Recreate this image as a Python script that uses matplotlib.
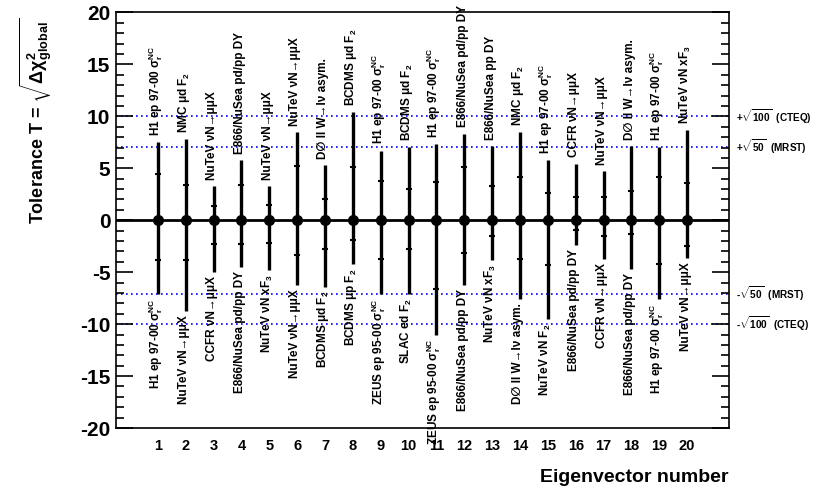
import numpy as np
import matplotlib
matplotlib.use("Agg")
import matplotlib.pyplot as plt
from matplotlib.ticker import MultipleLocator

plt.rcParams['font.family'] = ['Liberation Sans', 'DejaVu Sans']
plt.rcParams['font.weight'] = 'bold'
plt.rcParams['mathtext.fontset'] = 'custom'
plt.rcParams['mathtext.rm'] = 'Liberation Sans:bold'
plt.rcParams['mathtext.it'] = 'Liberation Sans:bold'
plt.rcParams['mathtext.bf'] = 'Liberation Sans:bold'
plt.rcParams['mathtext.sf'] = 'Liberation Sans:bold'
plt.rcParams['mathtext.default'] = 'rm'
plt.rcParams['axes.unicode_minus'] = False

# eigenvector numbers and tolerance values
eigen = np.arange(1, 21)
upper = [7.5, 7.8, 3.3, 5.8, 3.3, 8.5, 5.3, 10.4, 6.7, 7.05,
         7.3, 8.35, 7.15, 8.45, 5.8, 5.45, 4.75, 7.15, 7.05, 8.7]
upper_inner = [4.5, 3.4, 1.4, 3.4, 1.45, 5.2, 2.0, 5.1, 3.8, 3.0,
               3.7, 5.1, 3.3, 4.2, 2.6, 2.25, 2.25, 2.8, 4.2, 3.6]
lower = [-7.1, -8.7, -5.0, -4.5, -4.8, -6.25, -6.4, -4.2, -7.1, -7.1,
         -11.0, -6.2, -3.85, -7.6, -9.55, -2.4, -3.7, -4.65, -7.6, -3.6]
lower_inner = [-3.8, -3.8, -2.25, -2.25, -2.2, -3.3, -2.8, -1.9, -3.7, -2.8,
               -6.6, -3.2, -1.55, -3.7, -4.3, -0.95, -1.55, -1.3, -4.2, -2.5]

H1 = r'H1 ep 97-00 $σ_r^{NC}$'
ZEUS = r'ZEUS ep 95-00 $σ_r^{NC}$'
NUTEV_MM = 'NuTeV νN→μμX'
CCFR_MM = 'CCFR νN→μμX'
E866 = 'E866/NuSea pd/pp DY'
D0 = 'D∅ II W→lν asym.'
upper_labels = [H1, r'NMC μd $F_2$', NUTEV_MM, E866, NUTEV_MM, NUTEV_MM, D0,
                r'BCDMS μd $F_2$', H1, r'BCDMS μd $F_2$', H1, E866,
                'E866/NuSea pp DY', r'NMC μd $F_2$', H1, CCFR_MM, NUTEV_MM,
                D0, H1, r'NuTeV νN $xF_3$']
lower_labels = [H1, NUTEV_MM, CCFR_MM, E866, r'NuTeV νN $xF_3$', NUTEV_MM,
                r'BCDMS μd $F_2$', r'BCDMS μp $F_2$', ZEUS, r'SLAC ed $F_2$',
                ZEUS, E866, r'NuTeV νN $xF_3$', D0, r'NuTeV νN $F_2$', E866,
                CCFR_MM, E866, H1, NUTEV_MM]

tolerances = [10.0, np.sqrt(50.0), -np.sqrt(50.0), -10.0]
tol_labels = [r'+$\sqrt{100}$  (CTEQ)', r'+$\sqrt{50}$  (MRST)',
              r'-$\sqrt{50}$  (MRST)', r'-$\sqrt{100}$  (CTEQ)']

fig = plt.figure(figsize=(8.25, 4.94), dpi=100)
ax = fig.add_axes([0.1406, 0.1336, 0.7430, 0.8411])
ax.set_xlim(-0.5, 21.5)
ax.set_ylim(-20, 20)

for t in tolerances:
    ax.axhline(t, color='blue', ls=(0, (1, 2)), lw=1.2, zorder=1)
ax.axhline(0, color='black', lw=2.0, zorder=2)

ax.vlines(eigen, lower, upper, color='black', lw=2.4, zorder=3)
ax.plot(eigen, upper_inner, ls='none', marker='_', ms=5, mew=1.5, color='black', zorder=4)
ax.plot(eigen, lower_inner, ls='none', marker='_', ms=5, mew=1.5, color='black', zorder=4)
ax.plot(eigen, np.zeros(len(eigen)), ls='none', marker='o', ms=7, color='black', zorder=5)

for x, u, lab in zip(eigen, upper, upper_labels):
    ax.text(x + 0.05, u + 0.6, lab, rotation=90, rotation_mode='anchor',
            ha='left', va='baseline', fontsize=8.5, fontweight='bold')
for x, l, lab in zip(eigen, lower, lower_labels):
    ax.text(x + 0.05, l - 0.4, lab, rotation=90, rotation_mode='anchor',
            ha='right', va='baseline', fontsize=8.5, fontweight='bold')

for t, lab in zip(tolerances, tol_labels):
    ax.text(21.75, t, lab, ha='left', va='center', fontsize=7.2, fontweight='bold',
            clip_on=False)

ax.set_xticks(eigen)
ax.set_xticklabels([str(i) for i in eigen])
ax.tick_params(axis='x', length=0, pad=8, labelsize=10.5)
ax.yaxis.set_major_locator(MultipleLocator(5))
ax.yaxis.set_minor_locator(MultipleLocator(1))
ax.tick_params(axis='y', which='major', direction='in', length=12, width=1.2,
               left=True, right=True, labelsize=15, pad=4)
ax.tick_params(axis='y', which='minor', direction='in', length=6, width=1.2,
               left=True, right=True)
for lab in ax.get_xticklabels() + ax.get_yticklabels():
    lab.set_fontweight('bold')
for sp in ax.spines.values():
    sp.set_linewidth(1.2)

fig.text(0.883, 0.025, 'Eigenvector number', ha='right', va='baseline',
         fontsize=14, fontweight='bold')
fig.text(0.044, 0.755, r'Tolerance T = $\sqrt{\Delta\chi^2_{global}}$', rotation=90,
         ha='center', va='center', fontsize=13, fontweight='bold')

fig.savefig('out.png', dpi=100)
